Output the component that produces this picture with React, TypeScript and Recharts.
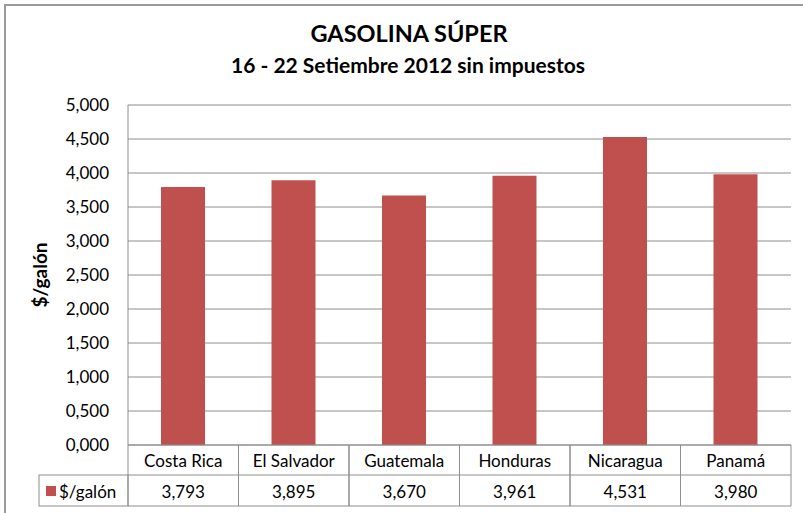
import { BarChart, Bar, XAxis, YAxis, CartesianGrid } from 'recharts';

const countries = ['Costa Rica', 'El Salvador', 'Guatemala', 'Honduras', 'Nicaragua', 'Panamá'];
const prices = [3.793, 3.895, 3.67, 3.961, 4.531, 3.98];
const yTicks = [0, 0.5, 1, 1.5, 2, 2.5, 3, 3.5, 4, 4.5, 5];
const seriesName = '$/galón';

const data = countries.map((c, i) => ({ country: c, price: prices[i] }));

const W = 803;
const H = 513;
const MARGIN = { top: 105, right: 12, left: 0, bottom: 0 };
const YAXIS_W = 128;
const XAXIS_H = 68;
const FONT = 'Lato, "Open Sans", sans-serif';
const RED = '#C0504D';
const LINE = '#8E8E8E';

const fmt = (v: number) => v.toFixed(3).replace('.', ',');

function TableTick(props: any) {
  const { x, y, payload, index } = props;
  const bw = (W - MARGIN.left - MARGIN.right - YAXIS_W) / countries.length;
  const left = x - bw / 2;
  const right = x + bw / 2;
  const mid = y + 30;
  const bottom = y + 61;
  return (
    <g>
      <line x1={left} y1={y} x2={left} y2={bottom} stroke={LINE} />
      <line x1={right} y1={y} x2={right} y2={bottom} stroke={LINE} />
      <line x1={left} y1={mid} x2={right} y2={mid} stroke={LINE} />
      <line x1={left} y1={bottom} x2={right} y2={bottom} stroke={LINE} />
      <text x={x} y={y + 22} textAnchor="middle" fontSize={17} fill="#000" fontFamily={FONT}>
        {payload.value}
      </text>
      <text x={x} y={y + 53} textAnchor="middle" fontSize={17} fill="#000" fontFamily={FONT}>
        {fmt(prices[index])}
      </text>
      {index === 0 && (
        <g>
          <rect x={left - 89} y={mid} width={89} height={31} fill="none" stroke={LINE} />
          <rect x={left - 82} y={mid + 11} width={10} height={10} fill={RED} />
          <text x={left - 69} y={mid + 23} fontSize={17} fill="#000" fontFamily={FONT}>
            {seriesName}
          </text>
        </g>
      )}
    </g>
  );
}

export default function App() {
  return (
    <div style={{ position: 'absolute', left: 0, top: 0, width: W, height: H, background: '#fff', overflow: 'hidden' }}>
      <div
        style={{
          position: 'absolute',
          left: 4,
          top: 4,
          width: W,
          height: H,
          borderLeft: '2px solid #9a9a9a',
          borderTop: '2px solid #9a9a9a',
        }}
      />
      <div
        style={{
          position: 'absolute',
          left: 409,
          top: 19,
          transform: 'translateX(-50%)',
          whiteSpace: 'nowrap',
          fontFamily: FONT,
          fontWeight: 700,
          fontSize: 23.5,
          color: '#000',
        }}
      >
        GASOLINA SÚPER
      </div>
      <div
        style={{
          position: 'absolute',
          left: 408,
          top: 52,
          transform: 'translateX(-50%)',
          whiteSpace: 'nowrap',
          fontFamily: FONT,
          fontWeight: 700,
          fontSize: 21,
          color: '#000',
        }}
      >
        16 - 22 Setiembre 2012 sin impuestos
      </div>
      <div style={{ position: 'absolute', left: 0, top: 0 }}>
        <BarChart width={W} height={H} data={data} margin={MARGIN} barSize={44}>
          <CartesianGrid vertical={false} stroke={LINE} strokeWidth={1} />
          <XAxis
            dataKey="country"
            height={XAXIS_H}
            axisLine={{ stroke: LINE }}
            tickLine={false}
            tickSize={0}
            tickMargin={0}
            interval={0}
            tick={<TableTick />}
          />
          <YAxis
            width={YAXIS_W}
            domain={[0, 5]}
            ticks={yTicks}
            interval={0}
            tickFormatter={fmt}
            axisLine={{ stroke: LINE }}
            tickLine={false}
            tickSize={0}
            tickMargin={19}
            tick={{ fill: '#000', fontSize: 17, fontFamily: FONT }}
            label={{
              value: seriesName,
              angle: -90,
              position: 'insideLeft',
              offset: 40,
              style: { fill: '#000', fontSize: 19, fontWeight: 700, fontFamily: FONT, textAnchor: 'middle' },
            }}
          />
          <Bar dataKey="price" fill={RED} isAnimationActive={false} />
        </BarChart>
      </div>
    </div>
  );
}
